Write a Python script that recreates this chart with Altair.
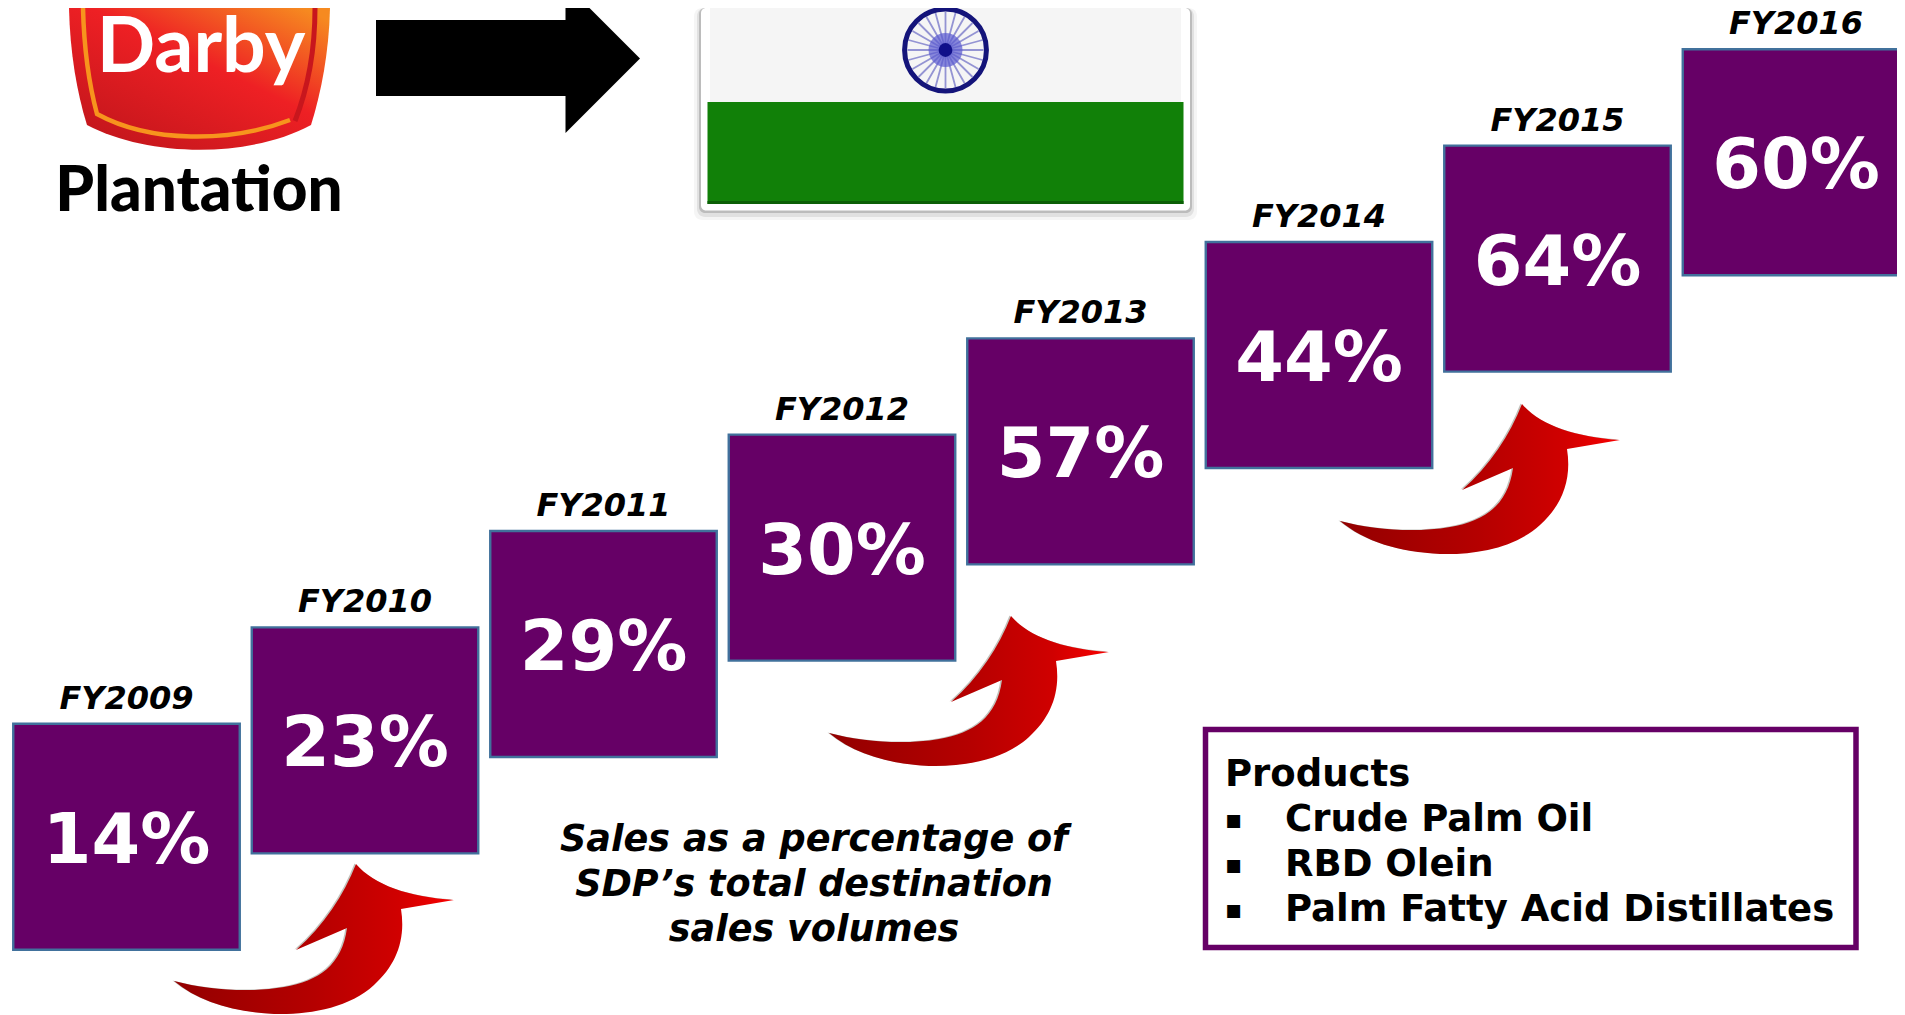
import altair as alt
import pandas as pd

years = ["FY2009", "FY2010", "FY2011", "FY2012", "FY2013", "FY2014", "FY2015", "FY2016"]
shares = ["14%", "23%", "29%", "30%", "57%", "44%", "64%", "60%"]
caption_lines = ["Sales as a percentage of", "SDP\u2019s total destination", "sales volumes"]
product_title = "Products"
product_items = ["Crude Palm Oil", "RBD Olein", "Palm Fatty Acid Distillates"]

PURPLE = "#660066"
FONT = "DejaVu Sans"
M = 8  # page margin

steps = pd.DataFrame({"year": years, "share": shares})
one = pd.DataFrame({"k": [0]})


def vx(v):
    return alt.value(v - M)


def vy(v):
    return alt.value(v - M)


def shape(path, x, y, **kw):
    return alt.Chart(one).mark_point(shape=path, size=4, filled=True, opacity=kw.pop("opacity", 1), **kw).encode(x=vx(x), y=vy(y))


def outline(path, x, y, color, width):
    return alt.Chart(one).mark_point(shape=path, size=4, filled=False, stroke=color, strokeWidth=width, opacity=1).encode(x=vx(x), y=vy(y))


def box(x0, x1, y0, y1, **kw):
    return alt.Chart(one).mark_rect(**kw).encode(x=vx(x0), x2=vx(x1), y=vy(y0), y2=vy(y1))


def label(text, x, y, size, align="left", weight="bold", style="normal", color="black", font=FONT):
    return alt.Chart(one).mark_text(
        text=text, align=align, baseline="alphabetic", font=font, fontSize=size,
        fontWeight=weight, fontStyle=style, color=color,
    ).encode(x=vx(x), y=vy(y))


xs = alt.X("year:N", axis=None, sort=years,
           scale=alt.Scale(type="point", domain=years, range=[118.5, 1788], padding=0))
ys = alt.Y("year:N", axis=None, sort=years,
           scale=alt.Scale(type="point", domain=years, range=[828.7, 154.3], padding=0))

squares = alt.Chart(steps).mark_rect(width=226.5, height=226, fill=PURPLE, stroke="#41719C", strokeWidth=2.4).encode(x=xs, y=ys)
pct = alt.Chart(steps).mark_text(font=FONT, fontWeight="bold", fontSize=70, color="white", baseline="alphabetic", dy=26).encode(x=xs, y=ys, text="share:N")
fy = alt.Chart(steps).mark_text(font=FONT, fontWeight="bold", fontStyle="italic", fontSize=32, color="black", baseline="alphabetic", dy=-128).encode(x=xs, y=ys, text="year:N")

# curved red arrows
ARROW = ("M40,141 C75,150 115,153 150,147 C185,141 208,125 213,88 L162,110 C190,85 210,55 222,24 "
         "C240,45 275,57 320,60 L267,69 C272,100 262,125 240,145 C215,168 175,175 140,174 "
         "C100,172 65,162 40,141 Z")
red = {"gradient": "linear", "x1": 0, "y1": 0, "x2": 1, "y2": 0,
       "stops": [{"offset": 0, "color": "#930000"}, {"offset": 0.5, "color": "#b50000"},
                 {"offset": 0.8, "color": "#d00000"}, {"offset": 1, "color": "#f80000"}]}
arrows = []
for ox, oy in [(134, 840), (789, 592), (1300, 380)]:
    arrows.append(shape(ARROW, ox - 1.5, oy - 0.5, fill="#9a9a90", opacity=0.6))
    arrows.append(shape(ARROW, ox, oy, fill=red))

# black arrow
black_arrow = shape("M376,12 L565.5,12 L565.5,-24 L640,50.5 L565.5,125 L565.5,88 L376,88 Z", 0, 8, fill="black")

# logo
shield = {"gradient": "linear", "x1": 0.1, "y1": 0.9, "x2": 0.9, "y2": 0,
          "stops": [{"offset": 0, "color": "#c4161c"}, {"offset": 0.55, "color": "#ee2024"}, {"offset": 1, "color": "#f68a20"}]}
logo = [
    shape("M69,0 C70,45 77,85 87,117 C150,150 250,150 311,117 C321,85 329,45 330,0 Z", 0, 8, fill=shield),
    outline("M83,0 C84,40 90,80 97,106 C150,135 230,135 290,112", 0, 8, "#f7941d", 4.5),
    outline("M315,0 C315,40 308,80 295,113", 0, 8, "#c8161d", 5),
    label("Darby", 201, 72, 77, align="center", font="Lato", color="white"),
    label("Plantation", 199, 211, 62, align="center", font="Lato", weight=900, color="black"),
]

# flag
WHEEL_SPOKES = "".join(
    f"M{dx},{dy}L{-dx},{-dy}"
    for dx, dy in [(38, 0), (37, 10), (33, 19), (27, 27), (19, 33), (10, 37), (0, 38), (-10, 37), (-19, 33), (-27, 27), (-33, 19), (-37, 10)]
)
CX, CY = 945.5, 50
flag = [
    box(694, 1197, 8, 220, fill="#000000", opacity=0.04, cornerRadius=8),
    box(697, 1194, 8, 217, fill="#000000", opacity=0.08, cornerRadius=8),
    box(699, 1192, 8, 213, fill="#000000", opacity=0.16, cornerRadius=6),
    box(701, 1190, 8, 210.5, fill="white", cornerRadius=5),
    box(710, 1181, 8, 102, fill="#f5f5f5"),
    box(707.5, 1183.5, 102, 204, fill="#118008"),
    box(707.5, 1183.5, 201, 204, fill="#0b5f06"),
    alt.Chart(one).mark_point(shape=WHEEL_SPOKES, size=4, filled=False, stroke="#8a8ad0", strokeWidth=1.8, opacity=0.9).encode(x=vx(CX), y=vy(CY)),
    alt.Chart(one).mark_point(shape="circle", size=6700, filled=False, stroke="#14147a", strokeWidth=5, opacity=1).encode(x=vx(CX), y=vy(CY)),
    alt.Chart(one).mark_point(shape="circle", size=1150, filled=True, fill="#5a5ad0", opacity=0.7).encode(x=vx(CX), y=vy(CY)),
    alt.Chart(one).mark_point(shape="circle", size=190, filled=True, fill="#10108a", opacity=1).encode(x=vx(CX), y=vy(CY)),
]

# caption
caption = [label(t, 814, b, 36.6, align="center", style="italic") for t, b in zip(caption_lines, [851, 896, 941])]

# products box
prod = [
    box(1205.5, 1856, 729.5, 947.5, fill="white", stroke=PURPLE, strokeWidth=5.5),
    label(product_title, 1225, 786, 37),
]
for t, b in zip(product_items, [831, 876, 921]):
    prod.append(label("\u25aa", 1225, b - 3, 26))
    prod.append(label(t, 1285, b, 37))

chart = alt.layer(
    *flag, black_arrow, *logo, *arrows, squares, pct, fy, *caption, *prod
).properties(width=1889, height=1007, padding=0, autosize="none", background="white"
).configure_view(stroke=None)

chart.save("out.html", embed_options={"renderer": "svg", "actions": False})
